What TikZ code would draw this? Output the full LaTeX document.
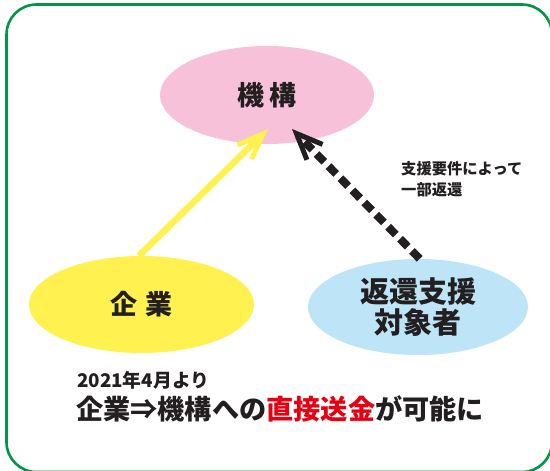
\documentclass[tikz,border=0pt]{standalone}
\usepackage{fontspec}
\setmainfont{Noto Sans CJK JP}
\usetikzlibrary{shapes.geometric,arrows.meta}
\definecolor{framegreen}{RGB}{0,150,70}
\definecolor{pinkfill}{RGB}{247,193,217}
\definecolor{yellowfill}{RGB}{255,241,80}
\definecolor{bluefill}{RGB}{189,228,247}
\definecolor{textdark}{RGB}{35,31,32}
\definecolor{redtext}{RGB}{230,0,18}
\tikzset{
  blob/.style={ellipse, inner sep=0pt, text=textdark, font=\bfseries\fontsize{27}{31}\selectfont, align=center},
  yarrow/.style={draw=yellowfill, line width=6.5pt, -{Straight Barb[length=26pt,width=20pt,line width=5pt]}},
  karrow/.style={draw=textdark, line width=8pt, dash pattern=on 11pt off 6pt, -{Straight Barb[length=26pt,width=22pt,line width=5pt]}},
  lbl/.style={text=textdark, font=\bfseries\fontsize{15.3}{21.5}\selectfont, align=left, inner sep=0pt}
}
\begin{document}
\begin{tikzpicture}[x=1pt,y=-1pt]
\path[use as bounding box, clip] (0,0) rectangle (550,471);
\fill[white] (0,0) rectangle (550,471);
\draw[framegreen, line width=2.6pt, rounded corners=30pt] (6.5,4.5) rectangle (552,472);
\node[blob, fill=pinkfill, minimum width=214pt, minimum height=98pt] (kiko) at (267,95) {機\hspace{5pt}構};
\node[blob, fill=yellowfill, minimum width=225pt, minimum height=97pt] (kigyo) at (141.5,304.5) {企\hspace{9pt}業};
\node[blob, fill=bluefill, minimum width=220pt, minimum height=96pt, font=\bfseries\fontsize{29}{31.5}\selectfont] (taisho) at (418,307) {返還支援\\対象者};
\coordinate (ytip) at (268,129);
\coordinate (ktip) at (292,129);
\draw[yarrow] (kigyo.93) -- (ytip);
\draw[karrow] (taisho.88) -- (ktip);
\node[lbl, anchor=north west] (note) at (401,161) {支援要件によって\\一部返還};
\node[text=textdark, font=\bfseries\fontsize{18.8}{18.8}\selectfont, anchor=base west, inner sep=0pt] (date) at (77,387) {2021年4月より};
\node[text=textdark, font=\bfseries\fontsize{27.2}{27.2}\selectfont, anchor=base west, inner sep=0pt] (main) at (76,419) {企業⇒機構への\textcolor{redtext}{直接送金}が可能に};
\end{tikzpicture}
\end{document}
